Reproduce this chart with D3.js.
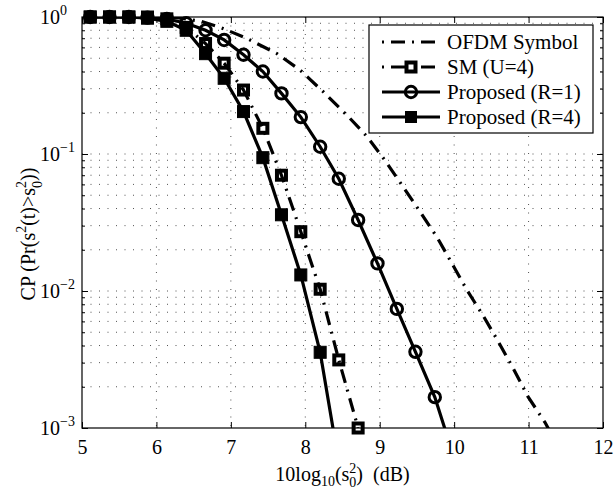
<!DOCTYPE html>
<html>
<head>
<meta charset="utf-8">
<script src="https://cdn.jsdelivr.net/npm/d3@7"></script>
<style>
  body { margin: 0; background: #fff; }
  text { font-family: "Liberation Serif", "Times New Roman", serif; fill: #000; }
</style>
</head>
<body>
<div id="chart"></div>
<script>
// x positions (dB) shared by the marked curves
var xMarked = [5.11, 5.37, 5.63, 5.88, 6.14, 6.40, 6.66, 6.91, 7.17, 7.43, 7.68, 7.94, 8.20, 8.45, 8.71, 8.97, 9.23, 9.48, 9.74, 9.99];
var r1Values = [1.0, 1.0, 1.0, 0.99, 0.967, 0.90, 0.80, 0.68, 0.53, 0.40, 0.277, 0.186, 0.113, 0.066, 0.033, 0.0159, 0.0074, 0.0036, 0.00168, 0.00063];
var r4Values = [1.0, 1.0, 1.0, 0.98, 0.93, 0.80, 0.54, 0.357, 0.204, 0.094, 0.036, 0.0131, 0.00357, 0.00056];
var smValues = [1.0, 1.0, 1.0, 1.0, 0.97, 0.84, 0.64, 0.46, 0.293, 0.154, 0.070, 0.0271, 0.0103, 0.00314, 0.00100];
// OFDM symbol curve (no markers)
var ofdmX = [5.0, 5.5, 6.0, 6.3, 6.6, 6.86, 7.21, 7.62, 7.93, 8.24, 8.58, 8.83, 9.07, 9.32, 9.54, 9.77, 9.97, 10.17, 10.39, 10.59, 10.79, 10.99, 11.22, 11.45];
var ofdmValues = [1.0, 1.0, 0.998, 0.985, 0.93, 0.84, 0.70, 0.54, 0.41, 0.285, 0.187, 0.134, 0.090, 0.057, 0.038, 0.0247, 0.0159, 0.0102, 0.0066, 0.0043, 0.00275, 0.0017, 0.0011, 0.00065];

var xTicks = [5, 6, 7, 8, 9, 10, 11, 12];
var yExponents = [-3, -2, -1, 0];
var legendLabels = ["OFDM Symbol", "SM (U=4)", "Proposed (R=1)", "Proposed (R=4)"];

function init() {
  var w = 615, h = 491;
  var left = 82, right = 603, top = 17, bottom = 428;
  var fs = 20;

  var svg = d3.select("#chart").append("svg")
    .attr("width", w).attr("height", h);

  var xScale = d3.scaleLinear().domain([5, 12]).range([left, right]);
  var yScale = d3.scaleLog().domain([1e-3, 1]).range([bottom, top]);

  var yMajor = yExponents.map(function(e) { return Math.pow(10, e); });
  var yMinor = [];
  yExponents.slice(0, -1).forEach(function(e) {
    for (var k = 2; k <= 9; k++) yMinor.push(k * Math.pow(10, e));
  });

  svg.append("clipPath").attr("id", "plot")
    .append("rect").attr("x", left).attr("y", top)
    .attr("width", right - left).attr("height", bottom - top);

  // dotted grid
  var grid = svg.append("g")
    .attr("stroke", "#000").attr("stroke-width", 0.9)
    .attr("stroke-dasharray", "1,7.5").attr("opacity", 0.75);
  grid.selectAll(".gx").data(xTicks.slice(1, -1)).enter().append("line")
    .attr("x1", d => xScale(d)).attr("x2", d => xScale(d))
    .attr("y1", top).attr("y2", bottom);
  grid.selectAll(".gy").data(yMajor.slice(1, -1).concat(yMinor)).enter().append("line")
    .attr("x1", left).attr("x2", right)
    .attr("y1", d => yScale(d)).attr("y2", d => yScale(d));

  // axes with inward ticks on all four sides
  function styleAxis(g) {
    g.select(".domain").remove();
    g.selectAll("line").attr("stroke", "#000").attr("stroke-width", 1);
  }
  svg.append("g").attr("transform", `translate(0,${bottom})`)
    .call(d3.axisBottom(xScale).tickValues(xTicks).tickSize(-6).tickPadding(12).tickFormat(d3.format("d")))
    .call(styleAxis)
    .selectAll("text").attr("font-size", fs).attr("font-family", "Liberation Serif");
  svg.append("g").attr("transform", `translate(0,${top})`)
    .call(d3.axisTop(xScale).tickValues(xTicks).tickSize(-6).tickFormat(""))
    .call(styleAxis);
  svg.append("g").attr("transform", `translate(${left},0)`)
    .call(d3.axisLeft(yScale).tickValues(yMajor).tickSize(-6).tickFormat(""))
    .call(styleAxis);
  svg.append("g").attr("transform", `translate(${left},0)`)
    .call(d3.axisLeft(yScale).tickValues(yMinor).tickSize(-3).tickFormat(""))
    .call(styleAxis);
  svg.append("g").attr("transform", `translate(${right},0)`)
    .call(d3.axisRight(yScale).tickValues(yMajor).tickSize(-6).tickFormat(""))
    .call(styleAxis);
  svg.append("g").attr("transform", `translate(${right},0)`)
    .call(d3.axisRight(yScale).tickValues(yMinor).tickSize(-3).tickFormat(""))
    .call(styleAxis);

  // y tick labels 10^e
  var yl = svg.selectAll(".ylab").data(yExponents).enter().append("text")
    .attr("x", 40).attr("y", d => yScale(Math.pow(10, d)) + 7)
    .attr("font-size", fs);
  yl.append("tspan").text("10");
  yl.append("tspan").attr("dy", -9).attr("font-size", 14)
    .text(d => d < 0 ? "\u2212" + (-d) : String(d));

  svg.append("rect")
    .attr("x", left).attr("y", top)
    .attr("width", right - left).attr("height", bottom - top)
    .attr("fill", "none").attr("stroke", "#000").attr("stroke-width", 1.2);

  // series
  var line = d3.line().x(d => xScale(d[0])).y(d => yScale(d[1]));
  function pts(xs, ys) { return ys.map(function(v, i) { return [xs[i], v]; }); }

  var ofdm = pts(ofdmX, ofdmValues);
  var sm = pts(xMarked, smValues);
  var r1 = pts(xMarked, r1Values);
  var r4 = pts(xMarked, r4Values);
  var dashDot = "14,7,2,7";

  var lines = svg.append("g").attr("clip-path", "url(#plot)")
    .attr("fill", "none").attr("stroke", "#000").attr("stroke-width", 3.2);
  lines.append("path").datum(ofdm).attr("d", line).attr("stroke-dasharray", dashDot);
  lines.append("path").datum(sm).attr("d", line).attr("stroke-dasharray", dashDot);
  lines.append("path").datum(r1).attr("d", line);
  lines.append("path").datum(r4).attr("d", line);

  function visible(d) { return d[1] >= 1e-3; }

  svg.append("g").selectAll("rect").data(sm.filter(visible)).enter().append("rect")
    .attr("x", d => xScale(d[0]) - 4.5).attr("y", d => yScale(d[1]) - 4.5)
    .attr("width", 9).attr("height", 9)
    .attr("fill", "none").attr("stroke", "#000").attr("stroke-width", 4);
  svg.append("g").selectAll("circle").data(r1.filter(visible)).enter().append("circle")
    .attr("cx", d => xScale(d[0])).attr("cy", d => yScale(d[1])).attr("r", 5.7)
    .attr("fill", "none").attr("stroke", "#000").attr("stroke-width", 3);
  svg.append("g").selectAll("rect").data(r4.filter(visible)).enter().append("rect")
    .attr("x", d => xScale(d[0]) - 6).attr("y", d => yScale(d[1]) - 6)
    .attr("width", 12).attr("height", 12)
    .attr("fill", "#000").attr("stroke", "#000").attr("stroke-width", 1);

  // legend
  var lg = svg.append("g");
  lg.append("rect").attr("x", 369).attr("y", 25).attr("width", 224).attr("height", 108)
    .attr("fill", "#fff").attr("stroke", "#000").attr("stroke-width", 1.2);
  var rowY = [42, 67, 92, 117];
  legendLabels.forEach(function(label, i) {
    var yy = rowY[i];
    lg.append("line").attr("x1", 382).attr("x2", 440).attr("y1", yy).attr("y2", yy)
      .attr("stroke", "#000").attr("stroke-width", 3.2)
      .attr("stroke-dasharray", i < 2 ? dashDot : null)
      .attr("stroke-dashoffset", i < 2 ? 21 : null);
    if (i === 1) {
      lg.append("rect").attr("x", 406.5).attr("y", yy - 4.5).attr("width", 9).attr("height", 9)
        .attr("fill", "#fff").attr("stroke", "#000").attr("stroke-width", 4);
    } else if (i === 2) {
      lg.append("circle").attr("cx", 411).attr("cy", yy).attr("r", 5.7)
        .attr("fill", "none").attr("stroke", "#000").attr("stroke-width", 3);
    } else if (i === 3) {
      lg.append("rect").attr("x", 405).attr("y", yy - 6).attr("width", 12).attr("height", 12)
        .attr("fill", "#000");
    }
    lg.append("text").attr("x", 447).attr("y", yy + 7).attr("font-size", 21).text(label);
  });

  // x label: 10log10(s0^2)  (dB)
  var xl = svg.append("text").attr("x", (left + right) / 2).attr("y", 481)
    .attr("text-anchor", "middle").attr("font-size", fs);
  xl.append("tspan").text("10log");
  xl.append("tspan").attr("dy", 5).attr("font-size", 14).text("10");
  xl.append("tspan").attr("dy", -5).text("(s");
  xl.append("tspan").attr("dy", -8).attr("font-size", 14).text("2");
  xl.append("tspan").attr("dx", -7).attr("dy", 14).attr("font-size", 14).text("0");
  xl.append("tspan").attr("dy", -6).text(")\u00a0\u00a0(dB)");

  // y label: CP (Pr(s^2(t)>s0^2))
  var ylab = svg.append("text")
    .attr("transform", "translate(35,234) rotate(-90)")
    .attr("text-anchor", "middle").attr("font-size", fs);
  ylab.append("tspan").text("CP (Pr(s");
  ylab.append("tspan").attr("dy", -9).attr("font-size", 14).text("2");
  ylab.append("tspan").attr("dy", 9).text("(t)>s");
  ylab.append("tspan").attr("dy", -9).attr("font-size", 14).text("2");
  ylab.append("tspan").attr("dx", -7).attr("dy", 16).attr("font-size", 14).text("0");
  ylab.append("tspan").attr("dy", -7).text("))");
}

window.onload = init;
</script>
</body>
</html>
